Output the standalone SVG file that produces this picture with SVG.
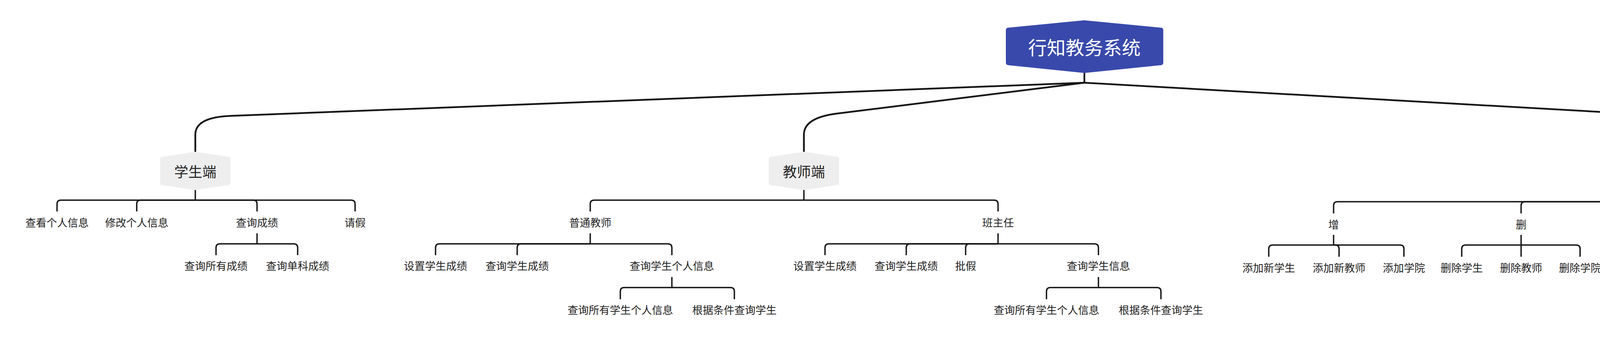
<svg xmlns="http://www.w3.org/2000/svg" width="5552" height="874" viewBox="0 0 5552 874">
<style>
.bg{fill:#ffffff}
.c1{fill:none;stroke:#161616;stroke-width:4.5}
.c2{fill:none;stroke:#161616;stroke-width:3.5}
.root{fill:#3949AB;stroke:#3949AB;stroke-width:12;stroke-linejoin:round}
.n1{fill:#EEEEEE;stroke:#EEEEEE;stroke-width:10;stroke-linejoin:round}
.t{font-family:"Noto Sans CJK SC","Noto Sans",sans-serif;text-anchor:middle;dominant-baseline:central}
.t0{font-size:48px;fill:#ffffff}
.t1{font-size:36px;fill:#222222}
.t2{font-size:27px;fill:#222222}
</style>
<rect class="bg" x="0" y="0" width="5552" height="874"/>
<g id="connectors">
  <path class="c1" d="M2776 187 V212"/>
  <path class="c1" d="M2776 212 L590 297 Q500 300.5 500 345 V389"/>
  <path class="c1" d="M2776 212 L2143 291 Q2058 301.6 2058 345 V389"/>
  <path class="c1" d="M2776 212 L4250 295.5 Q4334 300.3 4334 345 V389"/>
  <path class="c2" d="M500 487 V513"/>
  <path class="c2" d="M500 513 H156 Q146 513 146 523 V542"/>
  <path class="c2" d="M500 513 H360 Q350 513 350 523 V542"/>
  <path class="c2" d="M500 513 H648 Q658 513 658 523 V542"/>
  <path class="c2" d="M500 513 H899 Q909 513 909 523 V542"/>
  <path class="c2" d="M658 598 V625"/>
  <path class="c2" d="M658 625 H563 Q553 625 553 635 V654"/>
  <path class="c2" d="M658 625 H752 Q762 625 762 635 V654"/>
  <path class="c2" d="M2058 487 V513"/>
  <path class="c2" d="M2058 513 H1521 Q1511 513 1511 523 V542"/>
  <path class="c2" d="M2058 513 H2545 Q2555 513 2555 523 V542"/>
  <path class="c2" d="M1511 598 V625"/>
  <path class="c2" d="M1511 625 H1125 Q1115 625 1115 635 V654"/>
  <path class="c2" d="M1511 625 H1334 Q1324 625 1324 635 V654"/>
  <path class="c2" d="M1511 625 H1710 Q1720 625 1720 635 V654"/>
  <path class="c2" d="M1720 710 V737"/>
  <path class="c2" d="M1720 737 H1598 Q1588 737 1588 747 V767"/>
  <path class="c2" d="M1720 737 H1870 Q1880 737 1880 747 V767"/>
  <path class="c2" d="M2555 598 V625"/>
  <path class="c2" d="M2555 625 H2122 Q2112 625 2112 635 V654"/>
  <path class="c2" d="M2555 625 H2330 Q2320 625 2320 635 V654"/>
  <path class="c2" d="M2555 625 H2482 Q2472 625 2472 635 V654"/>
  <path class="c2" d="M2555 625 H2802 Q2812 625 2812 635 V654"/>
  <path class="c2" d="M2812 710 V737"/>
  <path class="c2" d="M2812 737 H2689 Q2679 737 2679 747 V767"/>
  <path class="c2" d="M2812 737 H2962 Q2972 737 2972 747 V767"/>
  <path class="c2" d="M4334 491 V517"/>
  <path class="c2" d="M4334 517 H3424 Q3414 517 3414 527 V547"/>
  <path class="c2" d="M4334 517 H3904 Q3894 517 3894 527 V547"/>
  <path class="c2" d="M4334 517 H4419 Q4429 517 4429 527 V547"/>
  <path class="c2" d="M4334 517 H5039 Q5049 517 5049 527 V547"/>
  <path class="c2" d="M4334 517 H5423 Q5433 517 5433 527 V547"/>
  <path class="c2" d="M3414 602 V628"/>
  <path class="c2" d="M3414 628 H3258 Q3248 628 3248 638 V658"/>
  <path class="c2" d="M3414 628 H3418 Q3428 628 3428 638 V658"/>
  <path class="c2" d="M3414 628 H3584 Q3594 628 3594 638 V658"/>
  <path class="c2" d="M3894 602 V628"/>
  <path class="c2" d="M3894 628 H3752 Q3742 628 3742 638 V658"/>
  <path class="c2" d="M3894 628 V658"/>
  <path class="c2" d="M3894 628 H4035 Q4045 628 4045 638 V658"/>
  <path class="c2" d="M4429 602 V628"/>
  <path class="c2" d="M4429 628 H4231 Q4221 628 4221 638 V658"/>
  <path class="c2" d="M4429 628 V658"/>
  <path class="c2" d="M4429 628 H4627 Q4637 628 4637 638 V658"/>
  <path class="c2" d="M5049 602 V628"/>
  <path class="c2" d="M5049 628 H4851 Q4841 628 4841 638 V658"/>
  <path class="c2" d="M5049 628 V658"/>
  <path class="c2" d="M5049 628 H5248 Q5258 628 5258 638 V658"/>
</g>
<g id="root">
  <polygon class="root" points="2581,77 2776,58 2972,77 2972,161 2776,181 2581,161"/>
  <text class="t t0" x="2776" y="119">行知教务系统</text>
</g>
<g id="student">
  <polygon class="n1" points="415,407 500,394 585,407 585,469 500,482 415,469"/>
  <text class="t t1" x="500" y="438">学生端</text>
</g>
<g id="teacher">
  <polygon class="n1" points="1973,407 2058,394 2143,407 2143,469 2058,482 1973,469"/>
  <text class="t t1" x="2058" y="438">教师端</text>
</g>
<g id="admin">
  <polygon class="n1" points="4231,408 4334,394 4437,408 4437,472 4334,486 4231,472"/>
  <text class="t t1" x="4334" y="440">管理员端</text>
</g>
<g id="student-children" class="t t2">
  <g id="s1"><text x="146" y="569">查看个人信息</text></g>
  <g id="s2"><text x="350" y="569">修改个人信息</text></g>
  <g id="s3"><text x="658" y="569">查询成绩</text></g>
  <g id="s4"><text x="909" y="569">请假</text></g>
  <g id="s31"><text x="553" y="680">查询所有成绩</text></g>
  <g id="s32"><text x="762" y="680">查询单科成绩</text></g>
</g>
<g id="teacher-children" class="t t2">
  <g id="t1"><text x="1511" y="569">普通教师</text></g>
  <g id="t11"><text x="1115" y="680">设置学生成绩</text></g>
  <g id="t12"><text x="1324" y="680">查询学生成绩</text></g>
  <g id="t13"><text x="1720" y="680">查询学生个人信息</text></g>
  <g id="t131"><text x="1588" y="793">查询所有学生个人信息</text></g>
  <g id="t132"><text x="1880" y="793">根据条件查询学生</text></g>
  <g id="t2"><text x="2555" y="569">班主任</text></g>
  <g id="t21"><text x="2112" y="680">设置学生成绩</text></g>
  <g id="t22"><text x="2320" y="680">查询学生成绩</text></g>
  <g id="t23"><text x="2472" y="680">批假</text></g>
  <g id="t24"><text x="2812" y="680">查询学生信息</text></g>
  <g id="t241"><text x="2679" y="793">查询所有学生个人信息</text></g>
  <g id="t242"><text x="2972" y="793">根据条件查询学生</text></g>
</g>
<g id="admin-children" class="t t2">
  <g id="a1"><text x="3414" y="574">增</text></g>
  <g id="a11"><text x="3248" y="685">添加新学生</text></g>
  <g id="a12"><text x="3428" y="685">添加新教师</text></g>
  <g id="a13"><text x="3594" y="685">添加学院</text></g>
  <g id="a2"><text x="3894" y="574">删</text></g>
  <g id="a21"><text x="3742" y="685">删除学生</text></g>
  <g id="a22"><text x="3894" y="685">删除教师</text></g>
  <g id="a23"><text x="4045" y="685">删除学院</text></g>
  <g id="a3"><text x="4429" y="574">改</text></g>
  <g id="a31"><text x="4221" y="685">修改学生信息</text></g>
  <g id="a32"><text x="4429" y="685">修改教师信息</text></g>
  <g id="a33"><text x="4637" y="685">修改学院信息</text></g>
  <g id="a4"><text x="5049" y="574">查</text></g>
  <g id="a41"><text x="4841" y="685">查询学生信息</text></g>
  <g id="a42"><text x="5049" y="685">查询教师信息</text></g>
  <g id="a43"><text x="5258" y="685">查询学院信息</text></g>
  <g id="a5"><text x="5433" y="574">发布公告</text></g>
</g>
</svg>
